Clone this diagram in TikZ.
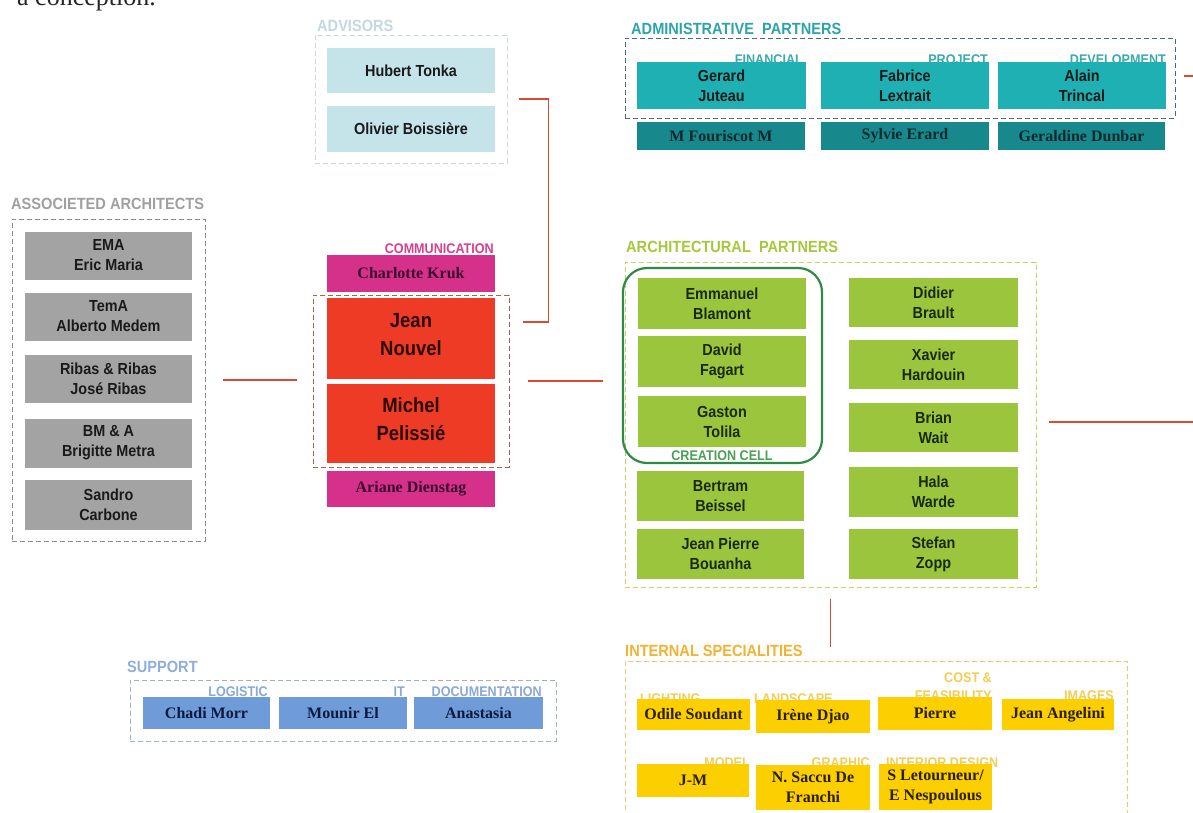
\documentclass[tikz,border=0pt]{standalone}
\usepackage{fontspec}
\setmainfont{Liberation Serif}
\newfontfamily\nsans[FakeStretch=0.9]{Liberation Sans}
\newfontfamily\tms{Liberation Serif}
\usetikzlibrary{positioning}
\definecolor{namec}{HTML}{1A1A1A}
\definecolor{linec}{HTML}{D64C30}
\definecolor{advt}{HTML}{C4D8E2}
\definecolor{advd}{HTML}{C8D6DE}
\definecolor{advf}{HTML}{C4E4EA}
\definecolor{admt}{HTML}{2DA4AC}
\definecolor{admd}{HTML}{4A6A78}
\definecolor{adml}{HTML}{3AAAB2}
\definecolor{admf}{HTML}{1FB0B3}
\definecolor{admg}{HTML}{17898C}
\definecolor{admx}{HTML}{10282E}
\definecolor{asst}{HTML}{A0A0A0}
\definecolor{assd}{HTML}{8A8A8A}
\definecolor{assf}{HTML}{A3A3A3}
\definecolor{comt}{HTML}{D6408E}
\definecolor{comf}{HTML}{D6318A}
\definecolor{comx}{HTML}{3A0A30}
\definecolor{redf}{HTML}{EE3B25}
\definecolor{redd}{HTML}{B0604A}
\definecolor{redx}{HTML}{2A0A05}
\definecolor{arct}{HTML}{A7C83A}
\definecolor{arcd}{HTML}{C8D060}
\definecolor{arcf}{HTML}{9BC53D}
\definecolor{arcx}{HTML}{1A2A10}
\definecolor{cellc}{HTML}{2F8A45}
\definecolor{cellt}{HTML}{4AA055}
\definecolor{intt}{HTML}{F2B232}
\definecolor{intd}{HTML}{F0C870}
\definecolor{intl}{HTML}{F5CC55}
\definecolor{intf}{HTML}{FCCF00}
\definecolor{intx}{HTML}{2A2000}
\definecolor{supt}{HTML}{8EAEDC}
\definecolor{supd}{HTML}{A0B0C8}
\definecolor{supl}{HTML}{8AA8D8}
\definecolor{supf}{HTML}{6F9CD8}
\definecolor{supx}{HTML}{0A1A40}
\tikzset{
  sz/.style 2 args={minimum width=#1pt, minimum height=#2pt},
  sbox/.style={rectangle, inner sep=0pt, align=center, text=namec,
    font=\nsans\bfseries\fontsize{16}{20}\selectfont},
  bigbox/.style={rectangle, inner sep=0pt, align=center, fill=redf, text=redx,
    font=\nsans\bfseries\fontsize{20.5}{28}\selectfont},
  tbox/.style={rectangle, inner sep=0pt, align=center,
    font=\tms\bfseries\fontsize{16}{20}\selectfont},
  ttl/.style={anchor=base west, inner sep=0pt, font=\nsans\bfseries\fontsize{16.2}{18}\selectfont},
  lbl/.style={inner sep=0pt, font=\nsans\bfseries\fontsize{14}{15}\selectfont},
  grp/.style={rectangle, inner sep=0pt, line width=1pt, dash pattern=on 5pt off 3pt},
  redline/.style={draw=linec, line width=1.6pt},
}
\begin{document}
\begin{tikzpicture}[x=1pt,y=-1pt]
\fill[white] (0,0) rectangle (1193,812);
\useasboundingbox (0,0) rectangle (1193,812);

\node[anchor=base east, inner sep=0pt, text=black!85, font=\rmfamily\fontsize{26}{30}\selectfont] (intro) at (156,5) {a conception.};

% ---------- ADVISORS
\node[ttl, text=advt] (advT) at (317,31) {ADVISORS};
\node[grp, draw=advd, sz={192}{128}] (adv) at (411,99) {};
\node[sbox, fill=advf, sz={168}{45}] (ht) at (411,70.5) {Hubert Tonka};
\node[sbox, fill=advf, sz={168}{46}] (ob) at (411,129) {Olivier Boissière};

% ---------- ADMINISTRATIVE PARTNERS
\node[ttl, text=admt] (admT) at (631,34.5) {ADMINISTRATIVE\ \ PARTNERS};
\node[grp, draw=admd, sz={550}{80}] (admin) at (900,78) {};
\node[lbl, anchor=base east, text=adml] (finL) at (803,64) {FINANCIAL};
\node[lbl, anchor=base east, text=adml] (proL) at (988,64) {PROJECT};
\node[lbl, anchor=base east, text=adml] (devL) at (1166,64) {DEVELOPMENT};
\node[sbox, fill=admf, sz={169}{47}] (gj) at (721.5,85.5) {Gerard\\Juteau};
\node[sbox, fill=admf, sz={168}{47}] (fl) at (905,85.5) {Fabrice\\Lextrait};
\node[sbox, fill=admf, sz={168}{47}] (at) at (1082,85.5) {Alain\\Trincal};
\node[tbox, fill=admg, text=admx, sz={168}{28}] (mf) at (721,136) {M Fouriscot M};
\node[tbox, fill=admg, text=admx, sz={168}{28}] (se) at (905,136) {Sylvie Erard};
\node[tbox, fill=admg, text=admx, sz={167}{28}] (gd) at (1081.5,136) {Geraldine Dunbar};

% ---------- ASSOCIETED ARCHITECTS
\node[ttl, text=asst] (assT) at (11,209.5) {ASSOCIETED ARCHITECTS};
\node[grp, draw=assd, sz={193}{322}] (assoc) at (108.5,380) {};
\node[sbox, fill=assf, sz={167}{48}] (ema) at (108.5,255.5) {EMA\\Eric Maria};
\node[sbox, fill=assf, sz={167}{48}] (tema) at (108.5,316.5) {TemA\\Alberto Medem};
\node[sbox, fill=assf, sz={167}{48}] (ribas) at (108.5,379) {Ribas \& Ribas\\José Ribas};
\node[sbox, fill=assf, sz={167}{49}] (bma) at (108.5,443) {BM \& A\\Brigitte Metra};
\node[sbox, fill=assf, sz={167}{50}] (sc) at (108.5,505) {Sandro\\Carbone};

% ---------- CENTRE
\node[lbl, anchor=base east, text=comt] (comL) at (494,253.5) {COMMUNICATION};
\node[tbox, fill=comf, text=comx, sz={168}{37}] (ck) at (411,273.5) {Charlotte Kruk};
\node[grp, draw=redd, sz={196}{172}] (core) at (411,381) {};
\node[bigbox, sz={168}{81}] (jn) at (411,338.5) {Jean\\Nouvel\rule[-8pt]{0pt}{1pt}};
\node[bigbox, sz={168}{79}] (mp) at (411,423.5) {Michel\\Pelissié\rule[-8pt]{0pt}{1pt}};
\node[tbox, fill=comf, text=comx, sz={168}{36}] (ad) at (411,489) {Ariane Dienstag};

% ---------- ARCHITECTURAL PARTNERS
\node[ttl, text=arct] (arcT) at (626,252.5) {ARCHITECTURAL\ \ PARTNERS};
\node[grp, draw=arcd, sz={411}{325}] (arch) at (830.5,424.5) {};
\node[rectangle, draw=cellc, line width=2.2pt, rounded corners=24pt, sz={199}{195}] (cell) at (722.5,365.5) {};
\node[sbox, fill=arcf, text=arcx, sz={168}{51}] (eb) at (722,303.5) {Emmanuel\\Blamont};
\node[sbox, fill=arcf, text=arcx, sz={168}{51}] (df) at (722,361.5) {David\\Fagart};
\node[sbox, fill=arcf, text=arcx, sz={168}{51}] (gt) at (722,421.5) {Gaston\\Tolila};
\node[lbl, text=cellt] (cellL) at (722,456) {CREATION CELL};
\node[sbox, fill=arcf, text=arcx, sz={167}{50}] (bb) at (720.5,496) {Bertram\\Beissel};
\node[sbox, fill=arcf, text=arcx, sz={167}{50}] (jpb) at (720.5,554) {Jean Pierre\\Bouanha};
\node[sbox, fill=arcf, text=arcx, sz={169}{49}] (db) at (933.5,302.5) {Didier\\Brault};
\node[sbox, fill=arcf, text=arcx, sz={169}{49}] (xh) at (933.5,364.5) {Xavier\\Hardouin};
\node[sbox, fill=arcf, text=arcx, sz={169}{49}] (bw) at (933.5,427.5) {Brian\\Wait};
\node[sbox, fill=arcf, text=arcx, sz={169}{50}] (hw) at (933.5,492) {Hala\\Warde};
\node[sbox, fill=arcf, text=arcx, sz={169}{50}] (sz) at (933.5,554) {Stefan\\Zopp};

% ---------- INTERNAL SPECIALITIES
\node[ttl, text=intt] (intT) at (625,656.5) {INTERNAL SPECIALITIES};
\node[grp, draw=intd, sz={502}{180}] (intl) at (876,751) {};
\node[lbl, anchor=base west, text=intl] (ligL) at (640,703) {LIGHTING};
\node[lbl, anchor=base west, text=intl] (lanL) at (754,703) {LANDSCAPE};
\node[lbl, anchor=base east, text=intl] (cosL) at (992,682) {COST \&};
\node[lbl, anchor=base east, text=intl] (feaL) at (992,700) {FEASIBILITY};
\node[lbl, anchor=base east, text=intl] (imgL) at (1114,700) {IMAGES};
\node[lbl, anchor=base east, text=intl] (modL) at (750,767) {MODEL};
\node[lbl, anchor=base east, text=intl] (graL) at (870,767) {GRAPHIC};
\node[lbl, anchor=base west, text=intl] (intL) at (886,767) {INTERIOR DESIGN};
\node[tbox, fill=intf, text=intx, sz={113}{31}] (os) at (693.5,714.5) {Odile Soudant};
\node[tbox, fill=intf, text=intx, sz={114}{33}] (id) at (813,716.5) {Irène Djao};
\node[tbox, fill=intf, text=intx, sz={114}{33}] (pi) at (935,713.5) {Pierre};
\node[tbox, fill=intf, text=intx, sz={112}{31}] (ja) at (1058,714.5) {Jean Angelini};
\node[tbox, fill=intf, text=intx, sz={112}{33}] (jm) at (693,780.5) {J-M};
\node[tbox, fill=intf, text=intx, sz={114}{45}] (ns) at (813,787.5) {N. Saccu De\\Franchi};
\node[tbox, fill=intf, text=intx, sz={113}{46}] (sl) at (935.5,787) {S Letourneur/\\E Nespoulous};

% ---------- SUPPORT
\node[ttl, text=supt] (supT) at (127,672.5) {SUPPORT};
\node[grp, draw=supd, sz={426}{61}] (sup) at (343,710.5) {};
\node[lbl, anchor=base east, text=supl] (logL) at (268,696) {LOGISTIC};
\node[lbl, anchor=base east, text=supl] (itL) at (405,696) {IT};
\node[lbl, anchor=base east, text=supl] (docL) at (542,696) {DOCUMENTATION};
\node[tbox, fill=supf, text=supx, sz={127}{32}] (cm) at (206.5,713) {Chadi Morr};
\node[tbox, fill=supf, text=supx, sz={128}{32}] (me) at (343,713) {Mounir El};
\node[tbox, fill=supf, text=supx, sz={129}{32}] (an) at (478.5,713) {Anastasia};

% ---------- CONNECTORS
\draw[redline, shorten <=11pt, shorten >=13pt] (adv.east) -- ++(41,0) |- ([yshift=59pt]core.east);
\draw[redline, shorten <=17pt, shorten >=16pt] (assoc.east) -- (assoc.east -| core.west);
\draw[redline, shorten <=18pt, shorten >=22pt] (core.east) -- (core.east -| arch.west);
\draw[redline, shorten <=8pt] ([yshift=2pt]admin.east) -- ++(30,0);
\draw[redline, shorten <=12pt] ([yshift=2.5pt]arch.east) -- ++(170,0);
\draw[redline, shorten <=11pt, shorten >=14pt] (arch.south) -- (arch.south |- intl.north);
\end{tikzpicture}
\end{document}
